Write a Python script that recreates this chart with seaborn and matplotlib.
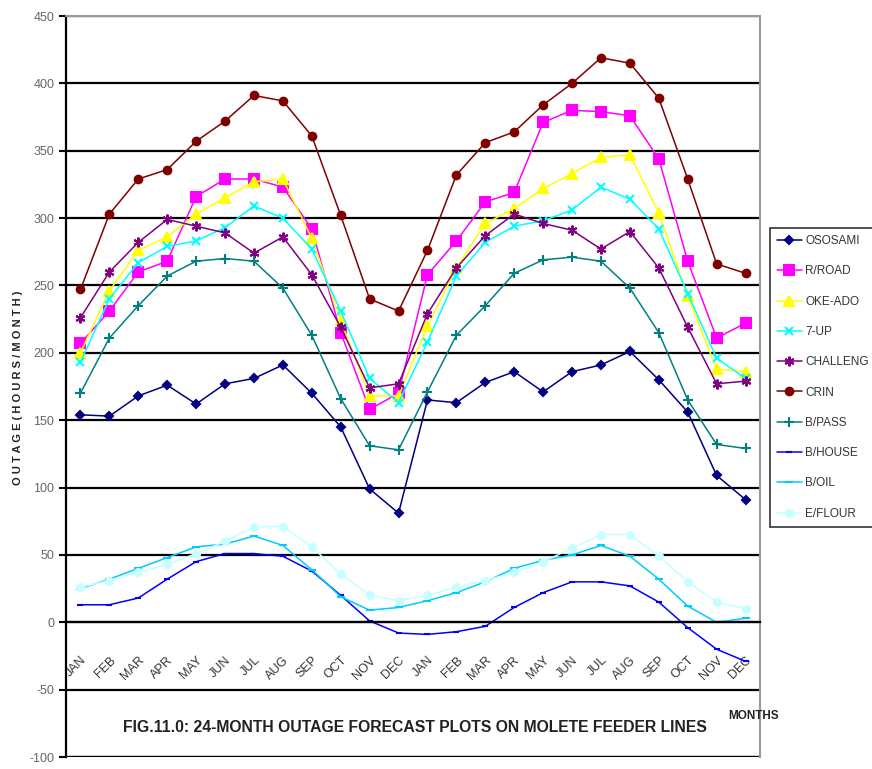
import numpy as np
import pandas as pd
import seaborn as sns
import matplotlib.pyplot as plt

# 月份标签 (两年)
months = ['JAN', 'FEB', 'MAR', 'APR', 'MAY', 'JUN', 'JUL', 'AUG', 'SEP', 'OCT', 'NOV', 'DEC'] * 2
pos = np.arange(len(months))

# 各馈线的停电预测值 (小时/月)
ososami = [154, 153, 168, 176, 162, 177, 181, 191, 170, 145, 99, 81,
           165, 163, 178, 186, 171, 186, 191, 201, 180, 156, 109, 91]
rroad = [207, 231, 260, 268, 316, 329, 329, 323, 292, 215, 158, 170,
         258, 283, 312, 319, 371, 380, 379, 376, 344, 268, 211, 222]
okeado = [200, 246, 276, 286, 303, 315, 327, 329, 285, 224, 168, 168,
          220, 263, 296, 307, 322, 333, 345, 347, 304, 242, 188, 186]
sevenup = [193, 240, 267, 279, 283, 293, 309, 300, 277, 231, 181, 163,
           208, 257, 282, 294, 298, 306, 323, 314, 292, 244, 196, 181]
challeng = [226, 260, 282, 299, 294, 289, 274, 286, 258, 219, 174, 177,
            229, 263, 287, 303, 296, 291, 277, 290, 263, 219, 177, 179]
crin = [247, 303, 329, 336, 357, 372, 391, 387, 361, 302, 240, 231,
        276, 332, 356, 364, 384, 400, 419, 415, 389, 329, 266, 259]
bpass = [170, 211, 235, 257, 268, 270, 268, 248, 213, 166, 131, 128,
         171, 213, 235, 259, 269, 271, 268, 248, 215, 165, 132, 129]
bhouse = [13, 13, 18, 32, 45, 51, 51, 49, 38, 20, 1, -8,
          -9, -7, -3, 11, 22, 30, 30, 27, 15, -4, -20, -29]
boil = [25, 32, 40, 48, 56, 58, 64, 57, 39, 19, 9, 11,
        16, 22, 30, 40, 46, 50, 57, 49, 32, 12, 0, 3]
eflour = [26, 31, 37, 43, 51, 60, 71, 71, 56, 36, 20, 16,
          20, 26, 31, 37, 45, 55, 65, 65, 49, 30, 15, 10]

names = ['OSOSAMI', 'R/ROAD', 'OKE-ADO', '7-UP', 'CHALLENG', 'CRIN', 'B/PASS', 'B/HOUSE', 'B/OIL', 'E/FLOUR']
series = [ososami, rroad, okeado, sevenup, challeng, crin, bpass, bhouse, boil, eflour]

# 样式: 颜色, 标记, 标记大小
styles = [
    ('#000080', 'D', 4.5),
    ('#FF00FF', 's', 6.5),
    ('#FFFF00', '^', 6.5),
    ('#00FFFF', 'x', 5.5),
    ('#800080', (6, 2, 0), 7),
    ('#800000', 'o', 5.5),
    ('#008080', '+', 7),
    ('#0000FF', '_', 5),
    ('#00CCFF', '_', 6),
    ('#C6FFFF', 'o', 5),
]

sns.set_style("white")
plt.rcParams['font.family'] = ['Liberation Sans', 'DejaVu Sans']
plt.rcParams['axes.unicode_minus'] = False

fig = plt.figure(figsize=(8.72, 7.69), dpi=100)
ax = fig.add_axes([66 / 872, 12 / 769, 694 / 872, 741 / 769])

# 绘制每条馈线
for name, vals, (c, m, ms) in zip(names, series, styles):
    sns.lineplot(x=pos, y=vals, color=c, marker=m, markersize=ms, lw=1.1,
                 markeredgecolor=c, markeredgewidth=1.5, label=name, ax=ax)

ax.set_xlim(-0.5, 23.5)
ax.set_ylim(-100, 450)
ax.set_yticks(range(-100, 451, 50))
ax.yaxis.grid(True, color='black', lw=1.6)
ax.xaxis.grid(False)
ax.set_axisbelow(True)
ax.axhline(-100, color='#333333', lw=1.6, zorder=0)

# 坐标轴边框
for s in ['top', 'right']:
    ax.spines[s].set_color('#999999')
    ax.spines[s].set_linewidth(1.5)
ax.spines['left'].set_color('black')
ax.spines['left'].set_linewidth(1.6)
ax.spines['bottom'].set_position(('data', 0))
ax.spines['bottom'].set_color('black')
ax.spines['bottom'].set_linewidth(1.6)

# x 轴刻度
ax.set_xticks(pos)
ax.set_xticklabels(months, rotation=45, ha='right', va='top', rotation_mode='anchor',
                   fontsize=9, color='#333333')
ax.set_xticks(np.arange(-0.5, 24, 1), minor=True)
ax.tick_params(axis='x', which='major', length=0, pad=23)
ax.tick_params(axis='x', which='minor', length=6, width=1.5, color='black', direction='out')
ax.tick_params(axis='y', length=5, width=1.5, color='black', direction='out',
               labelsize=9, labelcolor='#666666', left=True)
ax.set_xlabel('')
ax.set_ylabel('')

# 图例
ax.legend(loc='upper left', bbox_to_anchor=(770 / 872, 1 - 228 / 769), bbox_transform=fig.transFigure,
          borderaxespad=0, frameon=True, fancybox=False, edgecolor='black', fontsize=8.5,
          labelspacing=1.55, handlelength=2.1, handletextpad=0.3, borderpad=0.6, labelcolor='#333333')
ax.get_legend().get_frame().set_linewidth(1.2)

# 文字
fig.text(18 / 872, 1 - 388 / 769, ' '.join('OUTAGE(HOURS/MONTH)'), rotation=90,
         ha='center', va='center', fontsize=8, fontweight='bold', color='#222222')
fig.text(415 / 872, 1 - 728 / 769, 'FIG.11.0: 24-MONTH OUTAGE FORECAST PLOTS ON MOLETE FEEDER LINES',
         ha='center', va='center', fontsize=11.3, fontweight='bold', color='#222222')
fig.text(754 / 872, 1 - 716 / 769, 'MONTHS', ha='center', va='center', fontsize=8.5,
         fontweight='bold', color='#222222')

plt.savefig('out.png', dpi=100)
